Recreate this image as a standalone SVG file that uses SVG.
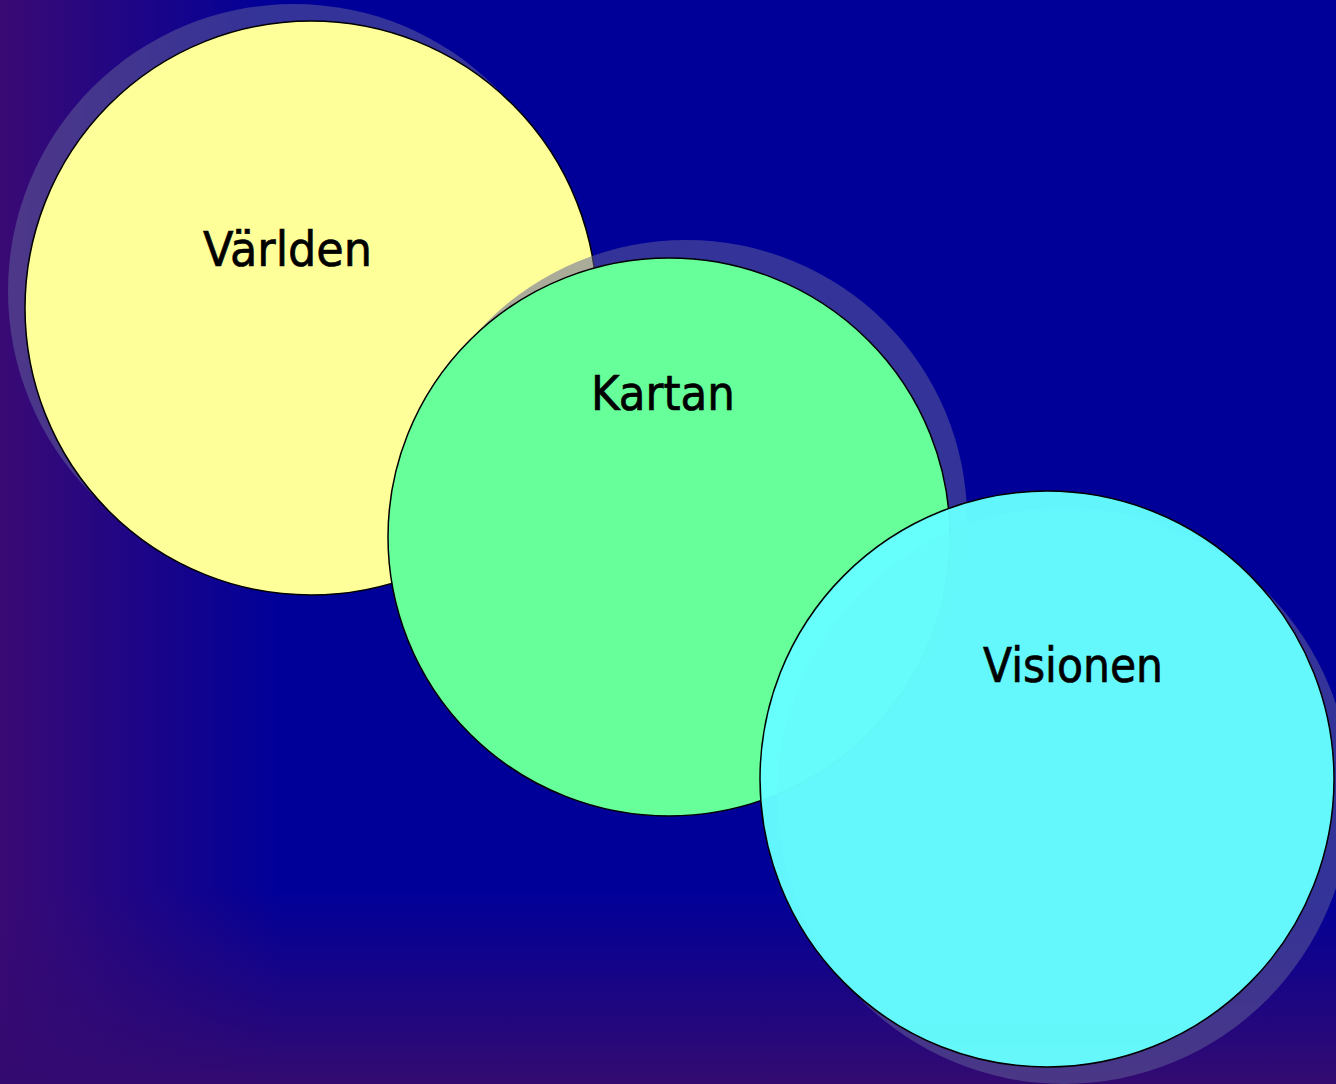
<svg xmlns="http://www.w3.org/2000/svg" width="1336" height="1084" viewBox="0 0 1336 1084">
  <defs>
    <linearGradient id="gLeft" gradientUnits="userSpaceOnUse" x1="0" y1="0" x2="280" y2="0">
      <stop offset="0" stop-color="#3a0a74" stop-opacity="1"/>
      <stop offset="1" stop-color="#3a0a74" stop-opacity="0"/>
    </linearGradient>
    <linearGradient id="gBottom" gradientUnits="userSpaceOnUse" x1="0" y1="1084" x2="0" y2="890">
      <stop offset="0" stop-color="#330a70" stop-opacity="1"/>
      <stop offset="1" stop-color="#330a70" stop-opacity="0"/>
    </linearGradient>
  </defs>
  <style>
    .shadow { fill: #606099; fill-opacity: 0.53; stroke: none; }
    .circle { stroke: #000000; stroke-width: 1.5; }
    .label { font-family: "Comic Sans MS", "DejaVu Sans", sans-serif; font-size: 48px; fill: #000000; stroke: #000000; stroke-width: 0.7; }
  </style>
  <rect x="0" y="0" width="1336" height="1084" fill="#000099"/>
  <rect x="0" y="0" width="1336" height="1084" fill="url(#gLeft)"/>
  <rect x="0" y="0" width="1336" height="1084" fill="url(#gBottom)"/>

  <g id="node-varlden">
    <ellipse class="shadow" cx="294" cy="291" rx="286" ry="287"/>
    <ellipse class="circle" cx="311" cy="308" rx="286" ry="287" fill="#FFFF99"/>
    <text class="label" x="203" y="266" textLength="169" lengthAdjust="spacingAndGlyphs">Världen</text>
  </g>

  <g id="node-kartan">
    <ellipse class="shadow" cx="686" cy="519" rx="281" ry="279"/>
    <ellipse class="circle" cx="669" cy="537" rx="281" ry="279" fill="#66FF99"/>
    <text class="label" x="591" y="410" textLength="144" lengthAdjust="spacingAndGlyphs">Kartan</text>
  </g>

  <g id="node-visionen">
    <ellipse class="shadow" cx="1064" cy="796" rx="287" ry="288"/>
    <ellipse class="circle" cx="1047" cy="779" rx="287" ry="288" fill="#66FFFF" fill-opacity="0.96"/>
    <text class="label" x="983" y="682" textLength="180" lengthAdjust="spacingAndGlyphs">Visionen</text>
  </g>

  <g id="connectors"></g>
</svg>
